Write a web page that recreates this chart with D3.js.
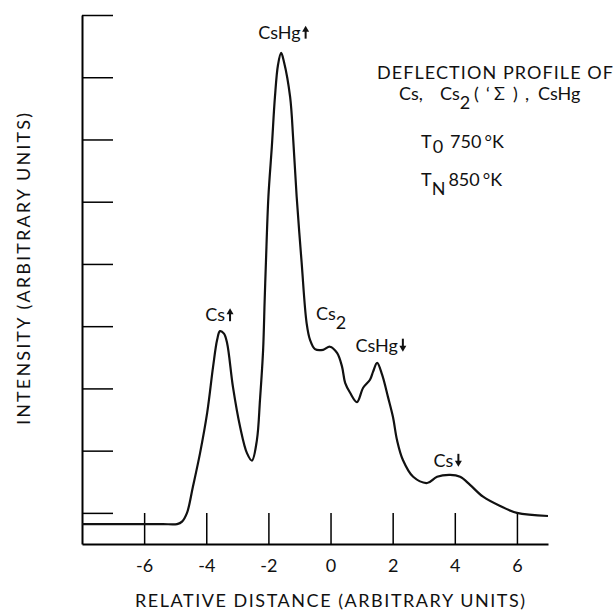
<!DOCTYPE html>
<html>
<head>
<meta charset="utf-8">
<script src="https://cdn.jsdelivr.net/npm/d3@7"></script>
<style>
  body { margin: 0; background: #fff; }
  text { font-family: "Lato", "DejaVu Sans", sans-serif; fill: #111; }
</style>
</head>
<body>
<script>
// deflection profile (relative distance, intensity)
const distance = [-8.00, -7.00, -6.00, -5.40, -4.94, -4.78, -4.62, -4.43, -4.20, -3.97, -3.78, -3.65, -3.56, -3.43, -3.33,
  -3.14, -2.91, -2.69, -2.53, -2.37, -2.27, -2.17, -2.12, -2.08, -2.00, -1.89, -1.79, -1.69, -1.59,
  -1.50, -1.30, -1.20, -1.09, -0.93, -0.77, -0.66, -0.50, -0.24, -0.02, 0.21, 0.37, 0.47, 0.63,
  0.85, 1.05, 1.27, 1.37, 1.50, 1.66, 1.85, 2.01, 2.14, 2.33, 2.66, 3.11, 3.43, 3.85, 4.17,
  4.49, 4.91, 5.46, 6.00, 7.00];
const intensity = [-0.18, -0.18, -0.18, -0.18, -0.18, -0.14, 0.00, 0.42, 0.96, 1.61, 2.35, 2.78, 2.92, 2.88, 2.73,
  2.02, 1.38, 0.96, 0.84, 1.17, 1.82, 2.62, 3.42, 4.02, 5.08, 5.88, 6.68, 7.20, 7.39,
  7.25, 6.68, 5.99, 5.08, 4.02, 3.05, 2.78, 2.63, 2.62, 2.67, 2.57, 2.35, 2.09, 1.93,
  1.78, 2.01, 2.14, 2.27, 2.41, 2.22, 1.86, 1.54, 1.17, 0.85, 0.58, 0.48, 0.58, 0.61, 0.58,
  0.45, 0.26, 0.11, 0.00, -0.05];

const xTicks = [-6, -4, -2, 0, 2, 4, 6];
const yTicks = [0, 1, 2, 3, 4, 5, 6, 7, 8];

// peak labels: name, subscript, arrow, anchor (data coords of label baseline centre)
const peakNames = ["Cs", "CsHg", "Cs", "CsHg", "Cs"];
const peakSub = ["", "", "2", "", ""];
const peakArrow = ["up", "up", "", "down", "down"];
const peakX = [-3.57, -1.50, 0.02, 1.63, 3.78];
const peakY = [3.08, 7.62, 3.10, 2.59, 0.74];

const width = 616, height = 611;
const svg = d3.select("body").append("svg")
    .attr("width", width).attr("height", height);

const x = d3.scaleLinear().domain([-8, 7]).range([82, 548]);
const y = d3.scaleLinear().domain([-0.5, 8]).range([544, 15]);

// axes, ticks pointing inward
svg.append("g")
    .attr("transform", `translate(0,${y(-0.5)})`)
    .call(d3.axisBottom(x).tickValues(xTicks).tickSizeInner(-31).tickSizeOuter(0)
        .tickPadding(15).tickFormat(d => String(d)))
    .call(g => g.select(".domain").attr("stroke-width", 2))
    .call(g => g.selectAll(".tick line").attr("stroke-width", 1.5))
    .call(g => g.selectAll(".tick text").attr("font-size", 18)
        .attr("font-family", "Lato, sans-serif").attr("fill", "#111"));

svg.append("g")
    .attr("transform", `translate(${x(-8)},0)`)
    .call(d3.axisLeft(y).tickValues(yTicks).tickSizeInner(-31).tickSizeOuter(0).tickFormat(""))
    .call(g => g.select(".domain").attr("stroke-width", 2))
    .call(g => g.selectAll(".tick line").attr("stroke-width", 1.5));

// profile curve
const pts = distance.map((d, i) => [d, intensity[i]]);
svg.append("path")
    .datum(pts)
    .attr("fill", "none")
    .attr("stroke", "#111")
    .attr("stroke-width", 2.2)
    .attr("stroke-linejoin", "round")
    .attr("d", d3.line().x(d => x(d[0])).y(d => y(d[1])).curve(d3.curveCatmullRom.alpha(0.5)));

// peak labels
peakNames.forEach((name, i) => {
  const g = svg.append("g");
  const t = g.append("text").attr("font-size", 18).attr("y", 0);
  t.append("tspan").text(name);
  if (peakSub[i]) t.append("tspan").attr("dy", 9).text(peakSub[i]);
  const w = t.node().getComputedTextLength();
  const aw = peakArrow[i] ? 9 : 0;
  if (peakArrow[i]) {
    const ax = w + 5;
    const up = peakArrow[i] === "up";
    const top = -13, bot = 0;
    g.append("line").attr("x1", ax).attr("x2", ax).attr("y1", up ? top + 4 : top).attr("y2", up ? bot : bot - 4)
        .attr("stroke", "#111").attr("stroke-width", 2);
    const tip = up ? top : bot, base = up ? top + 6 : bot - 6;
    g.append("path").attr("d", `M${ax},${tip}L${ax - 3.5},${base}L${ax + 3.5},${base}Z`).attr("fill", "#111");
  }
  const total = w + aw;
  g.attr("transform", `translate(${x(peakX[i]) - total / 2},${y(peakY[i])})`);
});

// title block
const title = svg.append("g");
title.append("text").attr("x", 377).attr("y", 79).attr("font-size", 18)
    .attr("textLength", 236).attr("lengthAdjust", "spacing").text("DEFLECTION PROFILE OF");

const l2 = title.append("text").attr("y", 100).attr("font-size", 18);
l2.append("tspan").attr("x", 399).text("Cs,");
l2.append("tspan").attr("x", 440).text("Cs");
l2.append("tspan").attr("dy", 9).text("2");
l2.append("tspan").attr("dy", -9).attr("x", 474).text("(");
l2.append("tspan").attr("x", 486).text("\u2018");
l2.append("tspan").attr("x", 494).text("\u03a3");
l2.append("tspan").attr("x", 513).text(")");
l2.append("tspan").attr("x", 525).text(",");
l2.append("tspan").attr("x", 538).text("CsHg");

const l3 = title.append("text").attr("x", 421).attr("y", 148).attr("font-size", 18);
l3.append("tspan").text("T");
l3.append("tspan").attr("dy", 5).attr("dx", 1).text("0");
l3.append("tspan").attr("dy", -5).attr("dx", 7).text("750");
l3.append("tspan").attr("dx", 3).text("\u00b0K");

const l4 = title.append("text").attr("x", 421).attr("y", 186).attr("font-size", 18);
l4.append("tspan").text("T");
l4.append("tspan").attr("dy", 9).text("N");
l4.append("tspan").attr("dy", -9).attr("dx", 3).text("850");
l4.append("tspan").attr("dx", 3).text("\u00b0K");

// axis titles
svg.append("text")
    .attr("x", 330).attr("y", 607).attr("font-size", 18).attr("text-anchor", "middle")
    .attr("textLength", 390).attr("lengthAdjust", "spacing")
    .text("RELATIVE DISTANCE (ARBITRARY UNITS)");

svg.append("text")
    .attr("transform", "translate(30,269) rotate(-90)")
    .attr("font-size", 18).attr("text-anchor", "middle")
    .attr("textLength", 312).attr("lengthAdjust", "spacing")
    .text("INTENSITY (ARBITRARY UNITS)");
</script>
</body>
</html>
